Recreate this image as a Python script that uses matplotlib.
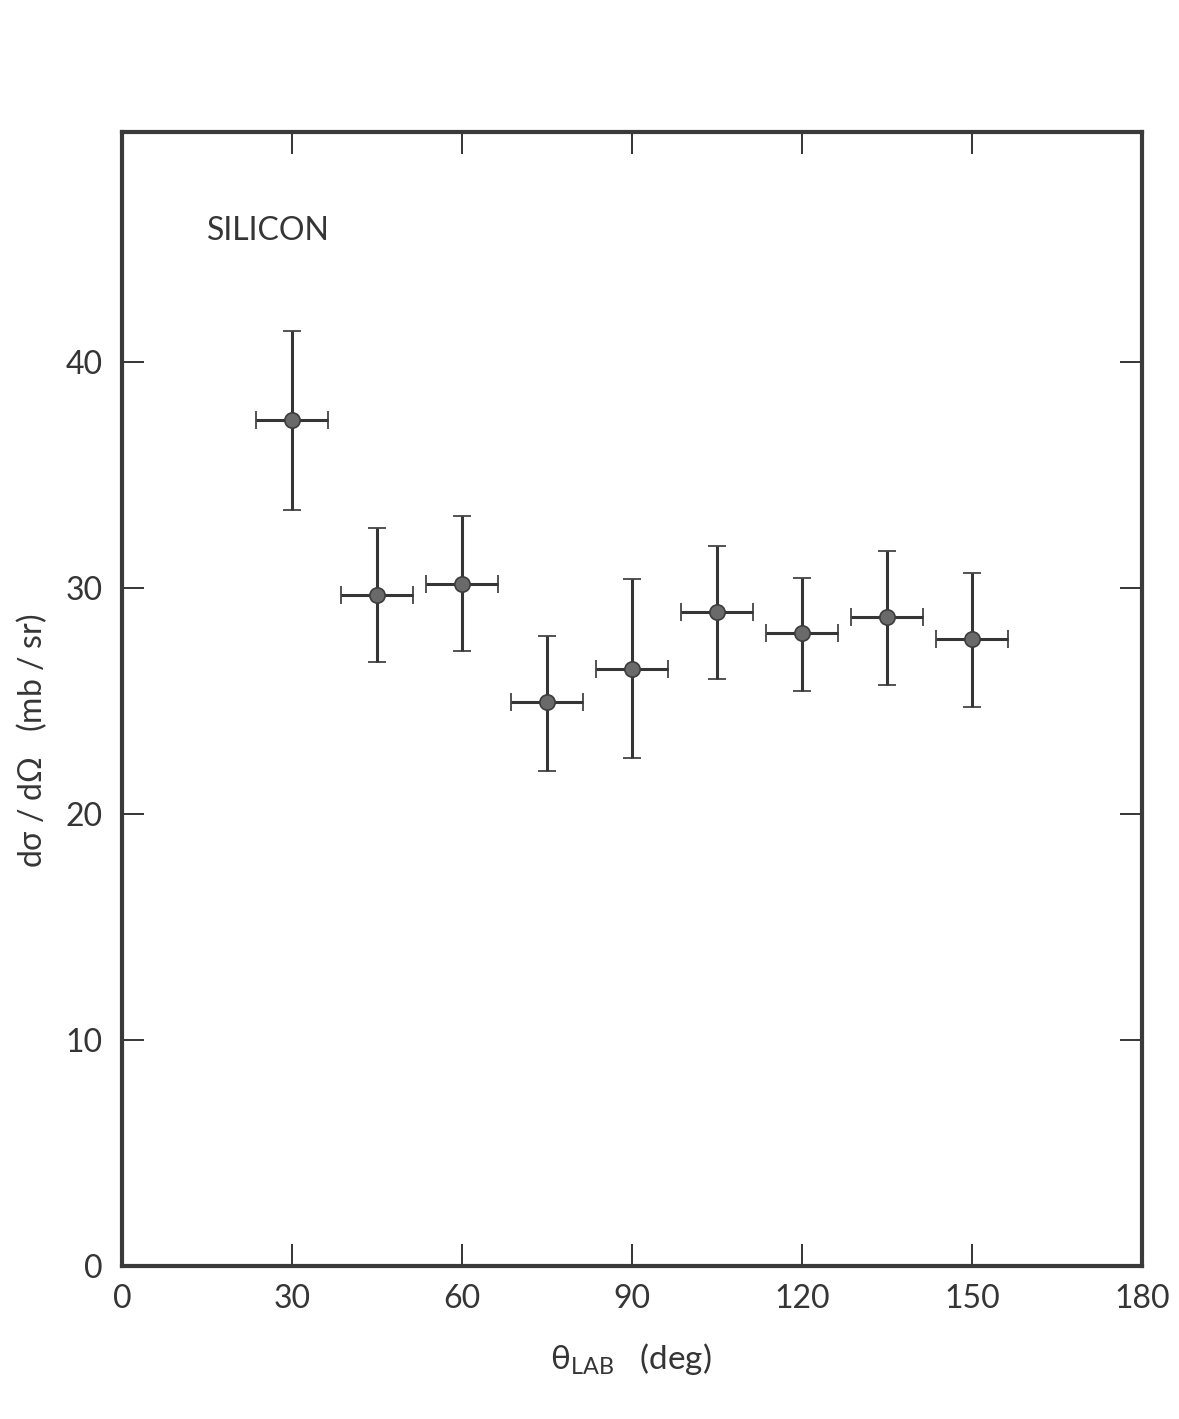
import numpy as np
import matplotlib.pyplot as plt

# Differential cross section for silicon vs. lab angle
theta = [30, 45, 60, 75, 90, 105, 120, 135, 150]
dsigma = [37.46, 29.7, 30.2, 24.96, 26.45, 28.95, 28.02, 28.72, 27.76]
err_hi = [41.4, 32.67, 33.19, 27.9, 30.41, 31.89, 30.46, 31.64, 30.68]
err_lo = [33.47, 26.74, 27.21, 21.9, 22.49, 25.99, 25.47, 25.74, 24.73]
theta_err = 6.4

x_ticks = [0, 30, 60, 90, 120, 150, 180]
y_ticks = [0, 10, 20, 30, 40]

ink = '#353535'
font = ['Lato', 'DejaVu Sans']
plt.rcParams['font.family'] = font

fig = plt.figure(figsize=(11.79, 14.19), dpi=100)
ax = fig.add_axes([0.1035, 0.1078, 0.8651, 0.7992])

y = np.array(dsigma)
yerr = [y - np.array(err_lo), np.array(err_hi) - y]
ax.errorbar(theta, y, yerr=yerr, xerr=theta_err, fmt='o',
            color=ink, ecolor=ink, elinewidth=2.2, capsize=6.5, capthick=2.2,
            markersize=11, markerfacecolor='#6a6a6a', markeredgecolor='#3c3c3c',
            markeredgewidth=1.2)

ax.set_xlim(0, 180)
ax.set_ylim(0, 50.2)
ax.set_xticks(x_ticks)
ax.set_yticks(y_ticks)
ax.tick_params(direction='in', length=16, width=1.4, colors=ink,
               top=True, right=True, labelsize=23, pad=13)
ax.tick_params(axis='y', pad=14)
for s in ax.spines.values():
    s.set_linewidth(3)
    s.set_color('#3a3a3a')

ax.text(15, 45.8, 'SILICON', fontsize=23, color=ink, ha='left', va='center')

fig.text(0.535, 0.042, r'$\mathregular{\theta_{LAB}}$   (deg)', fontsize=24,
         color=ink, ha='center', va='center')
fig.text(0.027, 0.478, r'd$\mathregular{\sigma}$ / d$\mathregular{\Omega}$   (mb / sr)',
         fontsize=23, color=ink, rotation=90, ha='center', va='center')

fig.savefig('out.png', dpi=100, facecolor='white')
